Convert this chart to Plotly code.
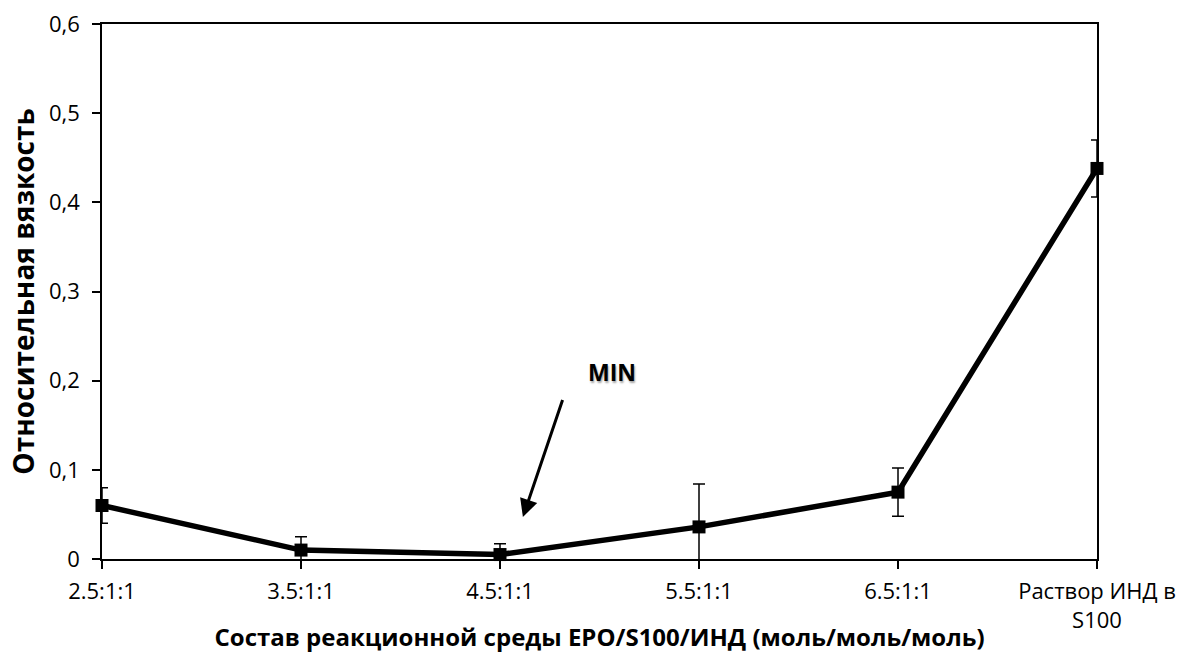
import plotly.graph_objects as go

# Reaction medium composition (EPO/S100/IND) and relative viscosity
categories = ["2.5:1:1", "3.5:1:1", "4.5:1:1", "5.5:1:1", "6.5:1:1", "Раствор ИНД в<br>S100"]
viscosity = [0.060, 0.010, 0.005, 0.036, 0.075, 0.438]
viscosity_err = [0.020, 0.015, 0.012, 0.048, 0.027, 0.032]

y_ticks = [0, 0.1, 0.2, 0.3, 0.4, 0.5, 0.6]
y_tick_text = ["0", "0,1", "0,2", "0,3", "0,4", "0,5", "0,6"]

xi = list(range(len(categories)))

fig = go.Figure()
fig.add_trace(go.Scatter(
    x=xi,
    y=viscosity,
    mode="lines+markers",
    line=dict(color="black", width=5.5),
    marker=dict(symbol="square", size=13, color="black"),
    error_y=dict(type="data", array=viscosity_err, visible=True,
                 color="black", thickness=1.5, width=6),
    showlegend=False,
    cliponaxis=False,
))

font_family = "'Open Sans', sans-serif"

fig.update_layout(
    width=1181, height=653,
    margin=dict(l=102, r=84, t=24, b=94),
    paper_bgcolor="white",
    plot_bgcolor="white",
    font=dict(family=font_family, color="black", size=22),
    xaxis=dict(
        range=[0, len(categories) - 1],
        tickmode="array",
        tickvals=xi,
        ticktext=categories,
        ticks="outside", ticklen=8, tickwidth=1.5, tickcolor="black",
        showline=True, linecolor="black", linewidth=1.5, mirror=True,
        showgrid=False, zeroline=False, automargin=False,
        ticklabelstandoff=4,
        tickfont=dict(size=22, family=font_family),
        title=dict(text="<b>Состав реакционной среды EPO/S100/ИНД (моль/моль/моль)</b>",
                   font=dict(size=24, family=font_family), standoff=10),
    ),
    yaxis=dict(
        range=[0, 0.6],
        tickmode="array",
        tickvals=y_ticks,
        ticktext=y_tick_text,
        ticks="outside", ticklen=8, tickwidth=1.5, tickcolor="black",
        showline=True, linecolor="black", linewidth=1.5, mirror=True,
        showgrid=False, zeroline=False, automargin=False,
        ticklabelstandoff=8,
        tickfont=dict(size=22, family=font_family),
        title=dict(text="<b>Относительная вязкость</b>",
                   font=dict(size=28, family=font_family), standoff=6),
    ),
)

# "MIN" label with an arrow pointing at the minimum
fig.add_annotation(
    x=2.115, y=0.047, ax=2.317, ay=0.180,
    xref="x", yref="y", axref="x", ayref="y",
    text="", showarrow=True, arrowhead=2, arrowsize=1.2,
    arrowwidth=3, arrowcolor="black",
)
fig.add_annotation(
    x=2.563, y=0.210, xref="x", yref="y",
    text="<b>MIN</b>", showarrow=False,
    font=dict(size=23, family=font_family, color="black",
              shadow="1px 2px 2px rgba(0,0,0,0.35)"),
)

fig.write_html("out.html")
